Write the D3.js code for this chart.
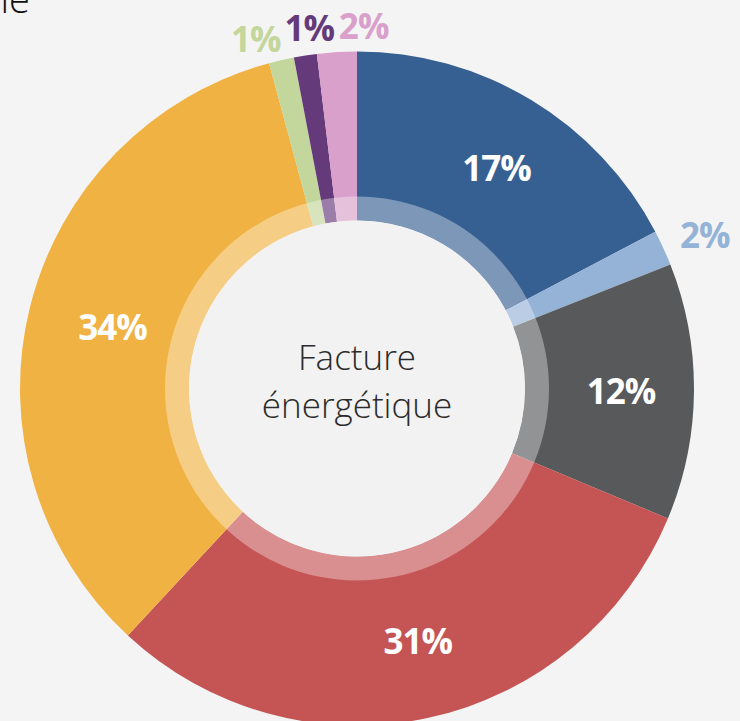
<!DOCTYPE html>
<html>
<head>
<meta charset="utf-8">
<script src="https://cdn.jsdelivr.net/npm/d3@7"></script>
<style>
  html, body { margin: 0; padding: 0; background: #f4f4f4; }
  svg { display: block; }
</style>
</head>
<body>
<div id="facture-energetique"></div>
<script>
// Slices, clockwise from 12 o'clock
const categories = ['Poste 1', 'Poste 2', 'Poste 3', 'Poste 4', 'Poste 5', 'Poste 6', 'Poste 7', 'Poste 8'];
const shares = [17.3, 1.7, 12.3, 30.6, 33.9, 1.2, 1.1, 1.9];
const centerLines = ['Facture', 'énergétique'];
const titleText = 'Énergie';

const chartOptions = {
  width: 740,
  height: 721,
  cx: 357,
  cy: 388.5,
  outerRadius: 337,
  holeRadius: 168,
  ringRadius: 192,
  insideLabelRadius: 258,
  outsideLabelRadius: 366,
  labelShiftX: 6,
  minLabelGap: 8.5,   // degrees between outside labels
  insideThreshold: 5,
};

const { width, height, cx, cy, outerRadius, holeRadius, ringRadius, labelShiftX } = chartOptions;

const color = d3.scaleOrdinal(categories,
  ['#376092', '#95b3d7', '#58595b', '#c55454', '#f0b343', '#c3d69b', '#653a7b', '#d8a0ca']);

const svg = d3.select('#facture-energetique')
  .append('svg')
  .attr('width', width)
  .attr('height', height);

// cut-off title in the corner
svg.append('text')
  .attr('x', 30)
  .attr('y', 13)
  .attr('text-anchor', 'end')
  .style('font-family', '"Open Sans", sans-serif')
  .style('font-weight', 300)
  .style('font-size', '38px')
  .style('fill', '#111')
  .text(titleText);

const g = svg.append('g')
  .attr('transform', `translate(${cx},${cy})`);

const pie = d3.pie()
  .sort(null)
  .value(d => d.value);

const data = categories.map((c, i) => ({ name: c, value: shares[i] }));
const arcs = pie(data);
const total = d3.sum(shares);

const arc = d3.arc()
  .innerRadius(holeRadius)
  .outerRadius(outerRadius);

g.selectAll('path.slice')
  .data(arcs)
  .enter()
  .append('path')
  .attr('class', 'slice')
  .attr('d', arc)
  .style('fill', d => color(d.data.name));

// translucent inner ring + hole
g.append('path')
  .attr('d', d3.arc().innerRadius(holeRadius).outerRadius(ringRadius).startAngle(0).endAngle(2 * Math.PI)())
  .style('fill', '#ffffff')
  .style('opacity', 0.35);

g.append('circle')
  .attr('r', holeRadius)
  .style('fill', '#f2f2f2');

g.selectAll('text.center')
  .data(centerLines)
  .enter()
  .append('text')
  .attr('class', 'center')
  .attr('x', 0)
  .attr('y', (d, i) => -19 + i * 48)
  .attr('text-anchor', 'middle')
  .style('font-family', '"Open Sans", sans-serif')
  .style('font-weight', 300)
  .style('font-size', '35px')
  .style('fill', '#2b2b2b')
  .text(d => d);

// Labels
const pct = d => Math.round(100 * d.data.value / total) + '%';
const midDeg = d => (d.startAngle + d.endAngle) / 2 * 180 / Math.PI;

const inside = arcs.filter(d => d.data.value >= chartOptions.insideThreshold);
const outside = arcs.filter(d => d.data.value < chartOptions.insideThreshold)
  .map(d => ({ arc: d, angle: midDeg(d) }));

// spread neighbouring outside labels so they do not overlap
outside.forEach(o => { if (o.angle > 180) o.angle -= 360; });
outside.sort((a, b) => a.angle - b.angle);
let clusters = outside.map(o => [o]);
let merged = true;
while (merged) {
  merged = false;
  for (let i = 0; i < clusters.length - 1; i++) {
    const a = clusters[i], b = clusters[i + 1];
    const aMean = d3.mean(a, o => o.angle), bMean = d3.mean(b, o => o.angle);
    const aEnd = aMean + (a.length - 1) * chartOptions.minLabelGap / 2;
    const bStart = bMean - (b.length - 1) * chartOptions.minLabelGap / 2;
    if (bStart - aEnd < chartOptions.minLabelGap) {
      clusters.splice(i, 2, a.concat(b));
      merged = true;
      break;
    }
  }
}
clusters.forEach(c => {
  const m = d3.mean(c, o => o.angle);
  c.forEach((o, j) => { o.placed = m + (j - (c.length - 1) / 2) * chartOptions.minLabelGap; });
});

const labelStyle = sel => sel
  .attr('text-anchor', 'middle')
  .attr('dominant-baseline', 'central')
  .style('font-family', '"Open Sans", sans-serif')
  .style('font-weight', 700)
  .style('font-size', '35px')
  .style('letter-spacing', '-1px');

const labelArc = d3.arc()
  .innerRadius(chartOptions.insideLabelRadius)
  .outerRadius(chartOptions.insideLabelRadius);

g.selectAll('text.inside')
  .data(inside)
  .enter()
  .append('text')
  .attr('class', 'inside')
  .attr('transform', d => {
    const [x, y] = labelArc.centroid(d);
    return `translate(${x + labelShiftX},${y})`;
  })
  .call(labelStyle)
  .style('fill', '#ffffff')
  .text(pct);

g.selectAll('text.outside')
  .data(outside)
  .enter()
  .append('text')
  .attr('class', 'outside')
  .attr('transform', o => {
    const a = o.placed * Math.PI / 180;
    const r = chartOptions.outsideLabelRadius + 11 * Math.abs(Math.sin(a));
    return `translate(${r * Math.sin(a) + labelShiftX},${-r * Math.cos(a) + 3})`;
  })
  .call(labelStyle)
  .style('fill', o => color(o.arc.data.name))
  .text(o => pct(o.arc));
</script>
</body>
</html>
